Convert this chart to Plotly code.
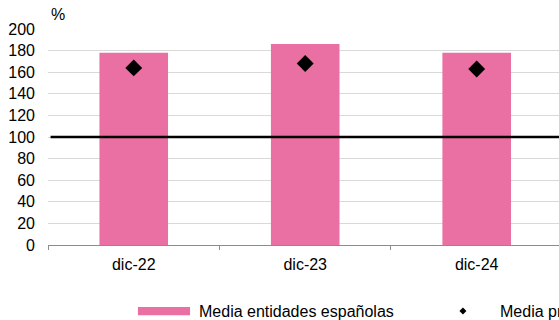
import plotly.graph_objects as go

# Ratio series by year-end
periods = ["dic-22", "dic-23", "dic-24"]
media_espanolas = [178, 186, 178]
media_principales = [164, 168, 163]
umbral = 100

serie_barras = "Media entidades españolas"
serie_puntos = "Media principales entidades europeas"

rosa = "#EA6FA2"
font_family = "Liberation Sans, Arial, sans-serif"

fig = go.Figure()

fig.add_trace(go.Bar(
    x=periods,
    y=media_espanolas,
    name=serie_barras,
    marker=dict(color=rosa, line=dict(width=0)),
    width=0.4,
    showlegend=False,
))

fig.add_trace(go.Scatter(
    x=periods,
    y=media_principales,
    name=serie_puntos,
    mode="markers",
    marker=dict(symbol="diamond", color="black", size=13),
    showlegend=False,
))

# Reference level at 100 %
fig.add_shape(
    type="line", xref="paper", yref="y",
    x0=0.005, x1=1, y0=umbral, y1=umbral,
    line=dict(color="black", width=2.5),
    layer="above",
)

fig.add_annotation(
    text="%", xref="paper", yref="paper", x=0, y=1,
    xanchor="left", yanchor="bottom", yshift=4, xshift=1,
    showarrow=False, font=dict(size=16, color="#000"),
)

# Legend row below the axis
ley_y = -0.306
fig.add_shape(
    type="rect", xref="paper", yref="paper",
    x0=0.176, x1=0.278, y0=-0.287, y1=-0.325,
    fillcolor=rosa, line=dict(width=0),
)
fig.add_annotation(
    text=serie_barras, xref="paper", yref="paper", x=0.2916, y=ley_y,
    xanchor="left", yanchor="middle", showarrow=False,
    font=dict(size=16, color="#000"),
)
cx, hx, hy = 0.812, 0.0068, 0.0162
fig.add_shape(
    type="path", xref="paper", yref="paper",
    path=f"M {cx - hx} {ley_y} L {cx} {ley_y + hy} L {cx + hx} {ley_y} L {cx} {ley_y - hy} Z",
    fillcolor="black", line=dict(width=0),
)
fig.add_annotation(
    text=serie_puntos, xref="paper", yref="paper", x=0.8806, y=ley_y,
    xanchor="left", yanchor="middle", showarrow=False,
    font=dict(size=16, color="#000"),
)

fig.update_layout(
    width=559, height=320,
    margin=dict(l=48, r=0, t=29, b=75, autoexpand=False),
    plot_bgcolor="white", paper_bgcolor="white",
    font=dict(family=font_family, size=16, color="#000"),
    showlegend=False,
    xaxis=dict(
        type="category",
        range=[-0.5, 2.48],
        showgrid=False,
        showline=True, linecolor="#8c8c8c", linewidth=1,
        ticks="outside", ticklen=4, tickcolor="#8c8c8c",
        tickson="boundaries",
        tickfont=dict(size=16),
        ticklabelstandoff=5,
    ),
    yaxis=dict(
        range=[0, 200], dtick=20,
        showgrid=True, gridcolor="#d9d9d9", gridwidth=1,
        zeroline=False, showline=False,
        tickfont=dict(size=16),
        ticklabelstandoff=12,
    ),
)

fig.write_html("out.html")
